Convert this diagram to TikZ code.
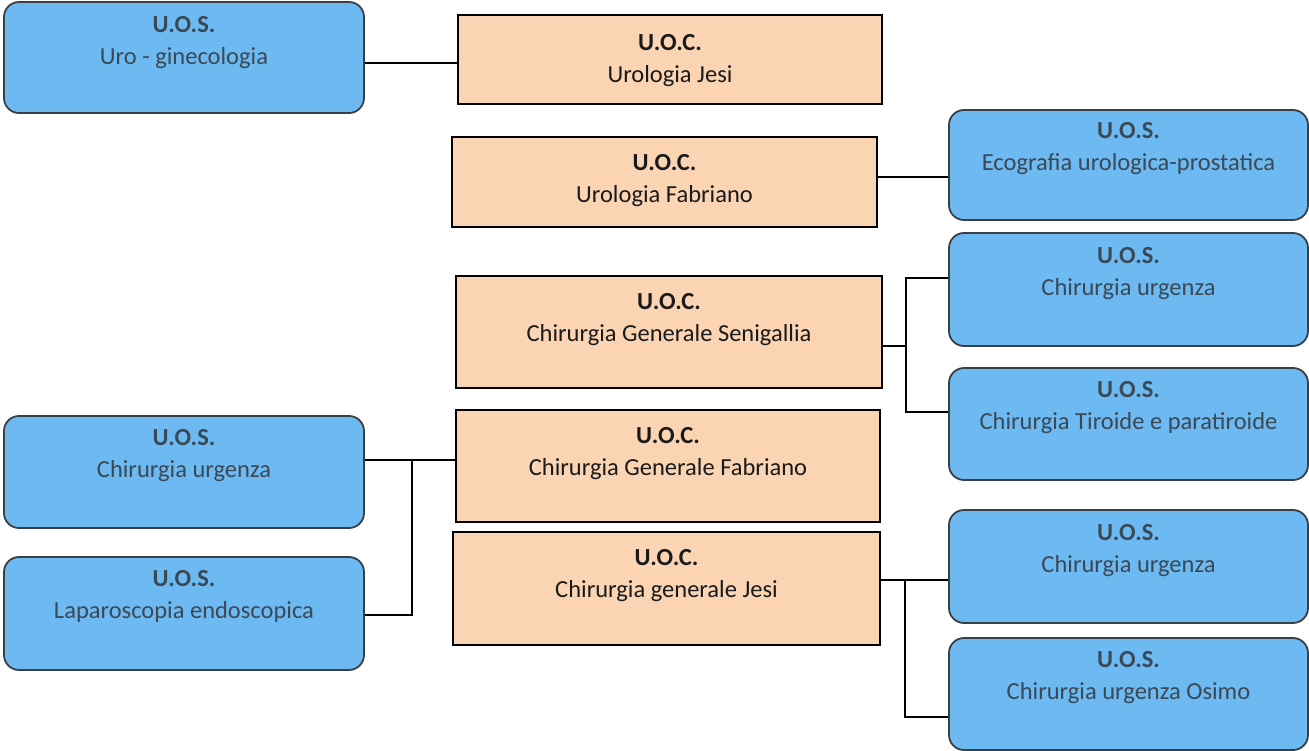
\documentclass[tikz,border=0pt]{standalone}
\usepackage{fontspec}
\setmainfont{Carlito}
\definecolor{uosfill}{HTML}{6CBAF1}
\definecolor{uosdraw}{HTML}{3A3F45}
\definecolor{uostext}{HTML}{3B4856}
\definecolor{uocfill}{HTML}{FBD4B4}
\definecolor{uoctext}{HTML}{1A1A1A}
\tikzset{
  uos/.style={draw=uosdraw, fill=uosfill, line width=1.8pt, rounded corners=15pt, inner sep=0pt},
  uoc/.style={draw=black, fill=uocfill, line width=1.5pt, inner sep=0pt},
  uostxt/.style={anchor=north, inner sep=0pt, align=center, text=uostext, font=\fontsize{24.5}{32}\selectfont},
  uoctxt/.style={anchor=north, inner sep=0pt, align=center, text=uoctext, font=\fontsize{24.5}{32}\selectfont},
  conn/.style={draw=black, line width=1.3pt}
}
\begin{document}
\begin{tikzpicture}[x=1pt,y=-1pt]
\useasboundingbox (0,0) rectangle (1309,751);
% blue boxes
\node[uos, minimum width=360pt, minimum height=111pt] (b1) at (184,57.5) {};
\node[uos, minimum width=359pt, minimum height=110pt] (b2) at (1128.5,165) {};
\node[uos, minimum width=359pt, minimum height=113pt] (b3) at (1128.5,289.5) {};
\node[uos, minimum width=359pt, minimum height=112pt] (b4) at (1128.5,424) {};
\node[uos, minimum width=359pt, minimum height=113pt] (b5) at (1128.5,566.5) {};
\node[uos, minimum width=359pt, minimum height=112pt] (b6) at (1128.5,694) {};
\node[uos, minimum width=360pt, minimum height=112pt] (b7) at (184,472) {};
\node[uos, minimum width=360pt, minimum height=113pt] (b8) at (184,613.5) {};
% orange boxes
\node[uoc, minimum width=424pt, minimum height=89pt] (o1) at (670,59.5) {};
\node[uoc, minimum width=425pt, minimum height=90pt] (o2) at (664.5,182) {};
\node[uoc, minimum width=426pt, minimum height=112pt] (o3) at (669,332) {};
\node[uoc, minimum width=424pt, minimum height=112pt] (o4) at (668,466) {};
\node[uoc, minimum width=427pt, minimum height=113pt] (o5) at (666.5,588.5) {};
% texts
\node[uostxt] (t1) at ([yshift=-15pt]b1.north) {\textbf{U.O.S.}\\Uro - ginecologia};
\node[uostxt] (t2) at ([yshift=-13pt]b2.north) {\textbf{U.O.S.}\\Ecografia urologica-prostatica};
\node[uostxt] (t3) at ([yshift=-15pt]b3.north) {\textbf{U.O.S.}\\Chirurgia urgenza};
\node[uostxt] (t4) at ([yshift=-14pt]b4.north) {\textbf{U.O.S.}\\Chirurgia Tiroide e paratiroide};
\node[uostxt] (t5) at ([yshift=-15pt]b5.north) {\textbf{U.O.S.}\\Chirurgia urgenza};
\node[uostxt] (t6) at ([yshift=-14pt]b6.north) {\textbf{U.O.S.}\\Chirurgia urgenza Osimo};
\node[uostxt] (t7) at ([yshift=-14pt]b7.north) {\textbf{U.O.S.}\\Chirurgia urgenza};
\node[uostxt] (t8) at ([yshift=-14pt]b8.north) {\textbf{U.O.S.}\\Laparoscopia endoscopica};
\node[uoctxt] (u1) at ([yshift=-20pt]o1.north) {\textbf{U.O.C.}\\Urologia Jesi};
\node[uoctxt] (u2) at ([yshift=-18pt]o2.north) {\textbf{U.O.C.}\\Urologia Fabriano};
\node[uoctxt] (u3) at ([yshift=-18pt]o3.north) {\textbf{U.O.C.}\\Chirurgia Generale Senigallia};
\node[uoctxt] (u4) at ([yshift=-18pt]o4.north) {\textbf{U.O.C.}\\Chirurgia Generale Fabriano};
\node[uoctxt] (u5) at ([yshift=-18pt]o5.north) {\textbf{U.O.C.}\\Chirurgia generale Jesi};
% junction coordinates
\coordinate (j1) at (411,63);
\coordinate (j2) at (913,177);
\coordinate (j3t) at (906,278);
\coordinate (j3m) at (906,346);
\coordinate (j3b) at (906,412);
\coordinate (jlt) at (412,460);
\coordinate (jlb) at (412,615);
\coordinate (j5t) at (905,580);
\coordinate (j5b) at (905,717);
% connectors
\draw[conn] (b1.east |- j1) -- (o1.west |- j1);
\draw[conn] (o2.east |- j2) -- (b2.west |- j2);
\draw[conn] (o3.east |- j3m) -- (j3m);
\draw[conn] (b3.west |- j3t) -- (j3t) -- (j3b) -- (b4.west |- j3b);
\draw[conn] (b7.east |- jlt) -- (o4.west |- jlt);
\draw[conn] (jlt) -- (jlb) -- (b8.east |- jlb);
\draw[conn] (o5.east |- j5t) -- (b5.west |- j5t);
\draw[conn] (j5t) -- (j5b) -- (b6.west |- j5b);
\end{tikzpicture}
\end{document}
